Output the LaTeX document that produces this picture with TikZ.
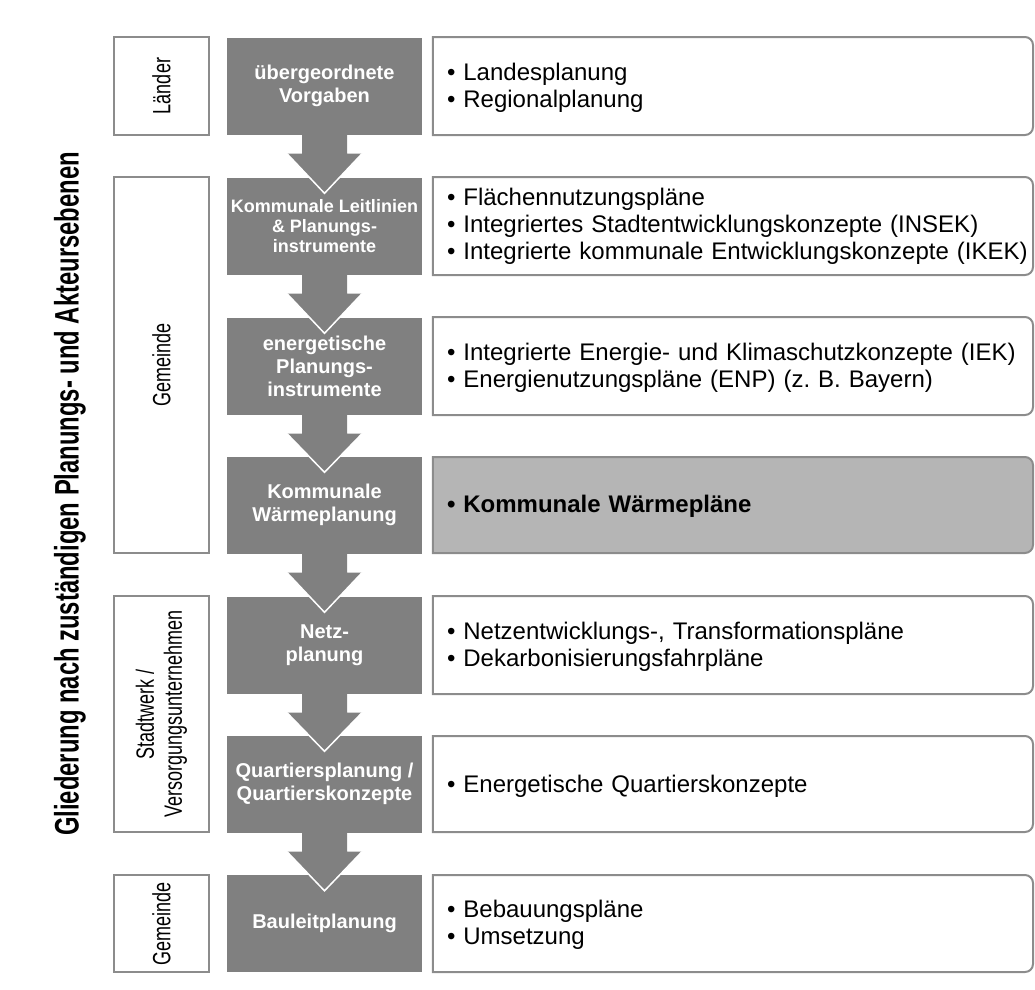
\documentclass[tikz,border=0pt]{standalone}
\usepackage{fontspec}
\setmainfont{Liberation Sans}
\newfontfamily\narrowfont[FakeStretch=0.72]{Liberation Sans}
\newfontfamily\titlefont[FakeStretch=0.7]{Liberation Sans}
\usetikzlibrary{calc,backgrounds}
\frenchspacing

\definecolor{stagegray}{RGB}{128,128,128}
\definecolor{framegray}{RGB}{140,140,140}
\definecolor{markgray}{RGB}{181,181,181}

\begin{document}
\begin{tikzpicture}[x=1pt,y=-1pt,
	stage/.style={fill=stagegray,text=white,minimum width=195pt,minimum height=97pt,
		inner sep=0pt,align=center,font=\bfseries\fontsize{20}{23}\selectfont},
	actor/.style={draw=framegray,line width=2pt,rotate=90,minimum height=95pt,
		inner sep=0pt,align=center,font=\narrowfont\fontsize{25}{28}\selectfont},
	item/.style={minimum height=97pt,text width=590pt,inner xsep=14pt,inner ysep=0pt,
		align=left,font=\fontsize{24}{27}\selectfont},
	rframe/.style={draw=framegray,line width=2pt}]
	\useasboundingbox (0,0) rectangle (1035,989);

	% Titel
	\node[rotate=90,inner sep=0pt,font=\titlefont\bfseries\fontsize{34}{36}\selectfont] (title) at (70,494)
		{Gliederung nach zuständigen Planungs- und Akteursebenen};

	% Akteure
	\node[actor,minimum width=98pt] (a1) at (161.5,86) {Länder};
	\node[actor,minimum width=376pt] (a2) at (161.5,365) {Gemeinde};
	\node[actor,minimum width=236pt] (a3) at (161.5,714) {Stadtwerk /\\Versorgungsunternehmen};
	\node[actor,minimum width=97pt] (a4) at (161.5,923.5) {Gemeinde};

	% Planungsebenen
	\node[stage] (s1) at (324.5,86) {übergeordnete\\Vorgaben};
	\node[stage,font=\bfseries\fontsize{18}{20}\selectfont] (s2) at (324.5,226) {Kommunale Leitlinien\\\& Planungs-\\instrumente};
	\node[stage] (s3) at (324.5,366) {energetische\\Planungs-\\instrumente};
	\node[stage] (s4) at (324.5,505) {Kommunale\\Wärmeplanung};
	\node[stage] (s5) at (324.5,645) {Netz-\\planung};
	\node[stage] (s6) at (324.5,784) {Quartiersplanung /\\Quartierskonzepte};
	\node[stage] (s7) at (324.5,923.5) {Bauleitplanung};

	% Instrumente (Rahmen 600pt breit, rechts abgerundet)
	\node[item] (r1) at (742,88) {• Landesplanung\\• Regionalplanung};
	\node[item] (r2) at (742,226) {• Flächennutzungspläne\\• Integriertes Stadtentwicklungskonzepte (INSEK)\\• Integrierte kommunale Entwicklungskonzepte (IKEK)};
	\node[item] (r3) at (742,368) {• Integrierte Energie- und Klimaschutzkonzepte (IEK)\\• Energienutzungspläne (ENP) (z. B. Bayern)};
	\node[item,font=\bfseries\fontsize{24}{27}\selectfont] (r4) at (742,506) {• Kommunale Wärmepläne};
	\node[item] (r5) at (742,647) {• Netzentwicklungs-, Transformationspläne\\• Dekarbonisierungsfahrpläne};
	\node[item] (r6) at (742,786) {• Energetische Quartierskonzepte};
	\node[item] (r7) at (742,925) {• Bebauungspläne\\• Umsetzung};

	\begin{scope}[on background layer]
	\foreach \r/\f/\t/\b in {r1/white/37/135,r2/white/177/275,r3/white/317/415,r4/markgray/457/553,
			r5/white/596/694,r6/white/736/832,r7/white/875/972}
		\draw[rframe,fill=\f] (\r.west |- 0,\t) -- (1025,\t)
			arc[start angle=90,end angle=0,radius=8pt] -- (1033,\b-8)
			arc[start angle=0,end angle=-90,radius=8pt] -- (\r.west |- 0,\b) -- cycle;
	\end{scope}

	% Pfeile
	\foreach \a/\b in {s1/s2,s2/s3,s3/s4,s4/s5,s5/s6,s6/s7} {
		\fill[stagegray] ($(\a.south)+(-22.5,-1)$) -- ($(\a.south)+(22.5,-1)$) -- ($(\a.south)+(22.5,19)$)
			-- ($(\a.south)+(37.5,19)$) -- ($(\b.north)+(0,16)$) -- ($(\a.south)+(-37.5,19)$)
			-- ($(\a.south)+(-22.5,19)$) -- cycle;
		\draw[white,line width=1.5pt] ($(\a.south)+(37.5,19)$) -- ($(\b.north)+(0,16)$) -- ($(\a.south)+(-37.5,19)$);
	}
\end{tikzpicture}
\end{document}
